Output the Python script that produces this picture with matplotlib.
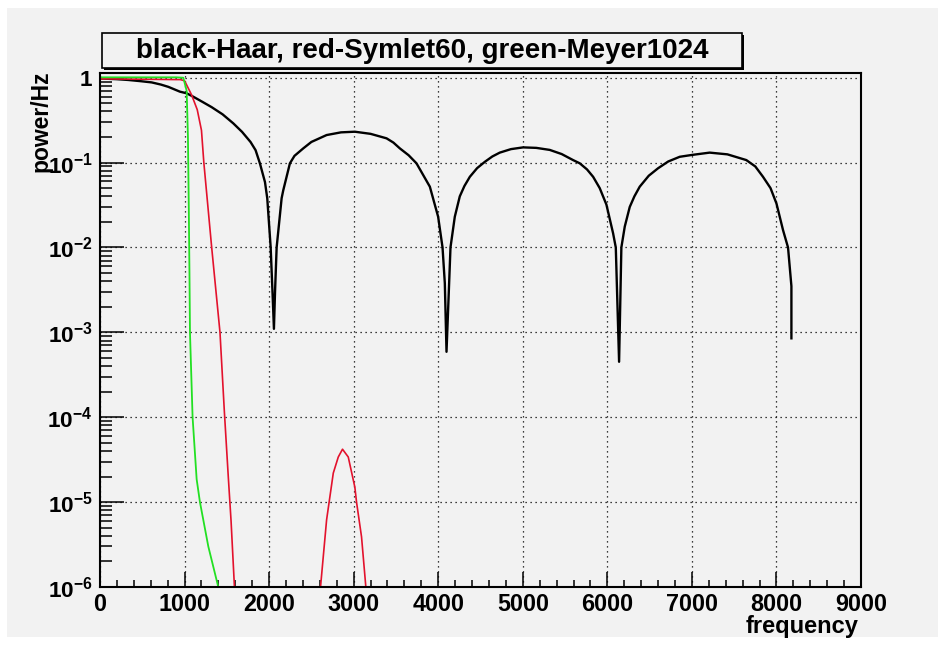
import math
import matplotlib
matplotlib.use('Agg')
import matplotlib.pyplot as plt
from matplotlib.patches import Rectangle
from matplotlib.ticker import FixedLocator, FuncFormatter, NullFormatter

plt.rcParams['font.family'] = ['Liberation Sans', 'DejaVu Sans']
plt.rcParams['mathtext.fontset'] = 'custom'
plt.rcParams['mathtext.rm'] = 'Liberation Sans:bold'
plt.rcParams['mathtext.it'] = 'Liberation Sans:bold'
plt.rcParams['mathtext.bf'] = 'Liberation Sans:bold'

# Power spectra of the three wavelet filters (frequency in Hz, power/Hz)
haar_freq = [0, 200, 335, 480, 611, 720, 808, 946, 1025, 1103, 1210, 1320,
             1450, 1576, 1680, 1780, 1840, 1891, 1951, 1978, 2018, 2040, 2057,
             2070, 2089, 2148, 2167, 2246, 2300, 2404, 2500, 2680, 2850, 3014,
             3200, 3389, 3470, 3546, 3650, 3743, 3901, 3999, 4051, 4078, 4098,
             4129, 4145, 4196, 4255, 4310, 4374, 4460, 4551, 4640, 4728, 4860,
             5004, 5160, 5319, 5460, 5595, 5674, 5760, 5832, 5910, 5989, 6068,
             6100, 6139, 6166, 6206, 6265, 6320, 6383, 6490, 6600, 6720, 6856,
             7000, 7210, 7420, 7644, 7750, 7841, 7930, 8000, 8078, 8137, 8177,
             8177]
haar_power = [0.98, 0.96, 0.94, 0.91, 0.88, 0.83, 0.78, 0.684, 0.655, 0.597,
              0.52, 0.45, 0.37, 0.29, 0.23, 0.175, 0.14, 0.098, 0.059, 0.038,
              0.0102, 0.003, 0.0011, 0.003, 0.01, 0.038, 0.047, 0.098, 0.12,
              0.147, 0.175, 0.211, 0.227, 0.231, 0.218, 0.193, 0.172, 0.147,
              0.122, 0.098, 0.052, 0.023, 0.01, 0.0038, 0.00059, 0.0038, 0.01,
              0.023, 0.040, 0.053, 0.068, 0.086, 0.102, 0.118, 0.131, 0.144,
              0.151, 0.149, 0.141, 0.126, 0.107, 0.098, 0.083, 0.068, 0.05,
              0.032, 0.0147, 0.01, 0.00045, 0.01, 0.0176, 0.030, 0.04, 0.052,
              0.07, 0.0857, 0.103, 0.117, 0.123, 0.131, 0.125, 0.107, 0.09,
              0.068, 0.05, 0.033, 0.016, 0.01, 0.0035, 0.00085]

symlet_freq = [0, 500, 900, 950, 1000, 1025, 1084, 1150, 1200, 1228, 1320,
               1419, 1470, 1517, 1550, 1590]
symlet_power = [0.97, 0.96, 0.95, 0.95, 0.92, 0.82, 0.625, 0.42, 0.24, 0.1,
                0.0102, 1e-3, 1.2e-4, 2e-5, 6e-6, 1e-6]

symlet_lobe_freq = [2608, 2680, 2759, 2818, 2868, 2936, 3014, 3034, 3093, 3144]
symlet_lobe_power = [1e-6, 6.2e-6, 2.2e-5, 3.4e-5, 4.2e-5, 3.4e-5, 1.5e-5,
                     1.0e-5, 3.9e-6, 1e-6]

meyer_freq = [0, 300, 600, 900, 985, 1025, 1040, 1050, 1058, 1064, 1095, 1143,
              1182, 1281, 1399]
meyer_power = [1.01, 1.01, 1.01, 1.01, 1.0, 0.7, 0.2, 0.03, 0.005, 1e-3, 1e-4,
               1.86e-5, 1e-5, 3e-6, 1e-6]

x_major = [0, 1000, 2000, 3000, 4000, 5000, 6000, 7000, 8000, 9000]
y_decades = [-6, -5, -4, -3, -2, -1, 0]

title = 'black-Haar, red-Symlet60, green-Meyer1024'

W, H = 945, 647
PAD = '#f2f2f2'
fig = plt.figure(figsize=(W / 100, H / 100), dpi=100, facecolor='white')
fig.patches.append(Rectangle((7 / W, 10 / H), (938 - 7) / W, (637 - 8) / H,
                             transform=fig.transFigure, facecolor=PAD,
                             edgecolor='none', zorder=-10))

ax = fig.add_axes([100 / W, 1 - 587 / H, 761 / W, (587 - 72.7) / H])
ax.set_facecolor(PAD)
ax.set_yscale('log')
ax.set_xlim(0, 9000)
ax.set_ylim(1e-6, 1.145)

ax.plot(haar_freq, haar_power, color='black', lw=1.7, zorder=3)
ax.plot(symlet_freq, symlet_power, color='#e3122d', lw=1.2, zorder=4)
ax.plot(symlet_lobe_freq, symlet_lobe_power, color='#e3122d', lw=1.2, zorder=4)
ax.plot(meyer_freq, meyer_power, color='#22e022', lw=1.3, zorder=5)

ax.xaxis.set_major_locator(FixedLocator(x_major))
ax.xaxis.set_minor_locator(FixedLocator(
    [x0 + s for x0 in x_major[:-1] for s in (200, 400, 600, 800)]))
ax.yaxis.set_major_locator(FixedLocator([10.0 ** d for d in y_decades]))
ax.yaxis.set_minor_locator(FixedLocator(
    [m * 10.0 ** d for d in y_decades[:-1] for m in range(2, 10)]))
ax.yaxis.set_minor_formatter(NullFormatter())


def decade_label(v, pos):
    e = int(round(math.log10(v)))
    return '1' if e == 0 else r'$10^{%d}$' % e


ax.yaxis.set_major_formatter(FuncFormatter(decade_label))
ax.xaxis.set_major_formatter(FuncFormatter(lambda v, p: '%d' % v))

ax.tick_params(axis='x', which='major', direction='in', length=10.8, width=1.1,
               pad=4, labelsize=16.8)
ax.tick_params(axis='x', which='minor', direction='in', length=5.4, width=1.1)
ax.tick_params(axis='y', which='major', direction='in', length=17.3, width=1.1,
               pad=5.5, labelsize=16.2)
ax.tick_params(axis='y', which='minor', direction='in', length=8.6, width=1.1)
for lab in ax.get_xticklabels() + ax.get_yticklabels():
    lab.set_fontweight('bold')

ax.grid(True, which='major', color='black', linestyle=(0, (1, 3)), linewidth=0.9)
for sp in ax.spines.values():
    sp.set_linewidth(1.5)
    sp.set_zorder(6)

fig.text(41 / W, 1 - 70 / H, 'power/Hz', rotation=90, ha='center', va='top',
         fontsize=16.5, fontweight='bold')
fig.text(859 / W, 1 - 633 / H, 'frequency', ha='right', va='baseline',
         fontsize=17, fontweight='bold')

# title box with a thin shadow
fig.patches.append(Rectangle((104 / W, 1 - 70 / H), 640 / W, 35 / H,
                             transform=fig.transFigure, facecolor='black',
                             edgecolor='none', zorder=1))
fig.patches.append(Rectangle((102 / W, 1 - 68 / H), 640 / W, 35 / H,
                             transform=fig.transFigure, facecolor=PAD,
                             edgecolor='black', linewidth=1.2, zorder=2))
fig.text(422 / W, 1 - 51 / H, title, ha='center', va='center', fontsize=20,
         fontweight='bold', zorder=3)

fig.savefig('out.png', dpi=100, facecolor='white')
